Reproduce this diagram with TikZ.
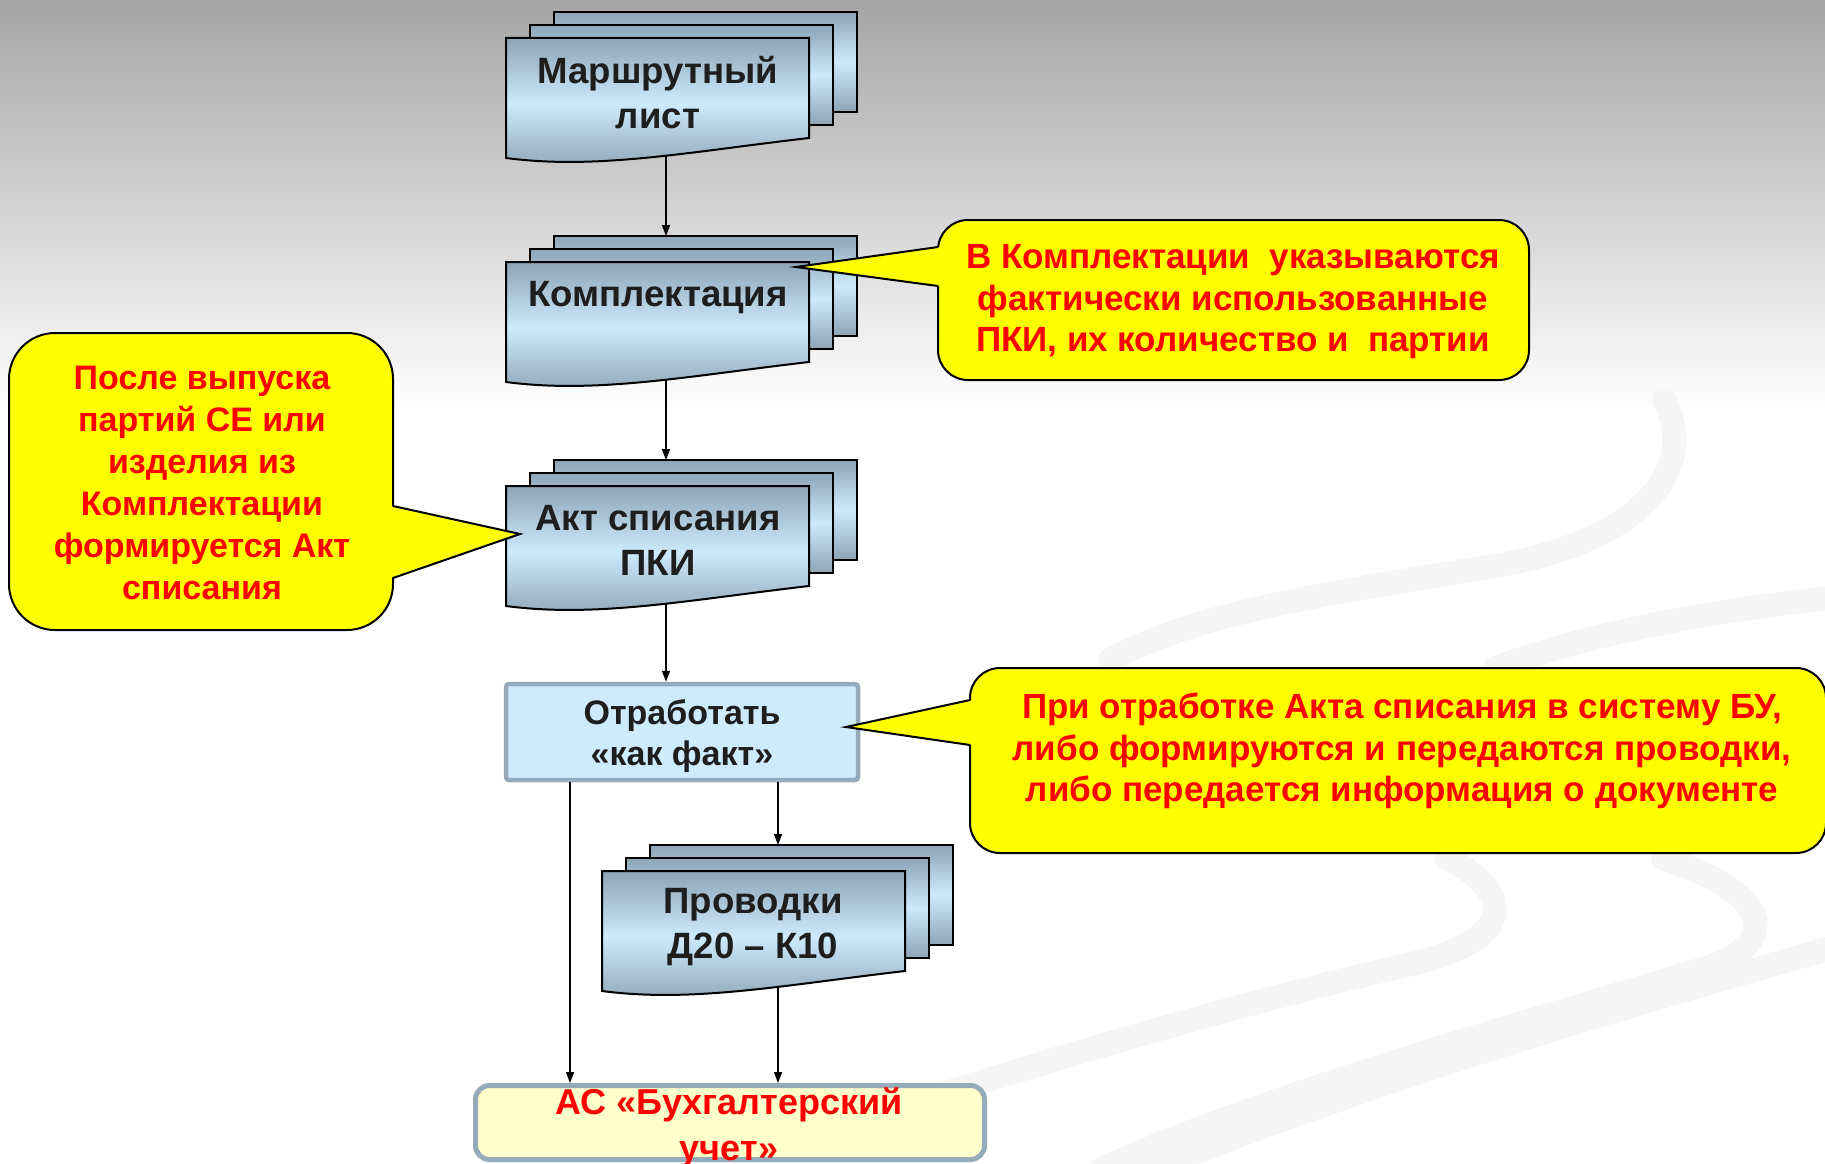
\documentclass[tikz,border=0pt]{standalone}
\usepackage{fontspec}
\setmainfont{Liberation Sans}
\usetikzlibrary{arrows.meta}
\definecolor{docdark}{HTML}{8DA5B5}
\definecolor{doclight}{HTML}{CCEAFC}
\definecolor{boxfill}{HTML}{CDEBFC}
\definecolor{boxline}{HTML}{95ABBA}
\definecolor{acfill}{HTML}{FFFFCC}
\definecolor{txtdark}{HTML}{1E1E1E}
\definecolor{swooshcol}{HTML}{F5F5F5}
\definecolor{notered}{HTML}{FF0000}
\definecolor{noteyellow}{HTML}{FFFF00}
\tikzset{
  docbox/.style={draw=black, line width=2pt, top color=docdark, bottom color=docdark, middle color=doclight},
  doctext/.style={font=\fontsize{36.6}{45}\selectfont\bfseries, text=txtdark, align=center, inner sep=0pt},
  conn/.style={line width=1.6pt, -{Triangle[length=11pt,width=8pt]}},
  callout/.style={draw=black, line width=2pt, fill=noteyellow},
  notetext/.style={font=\fontsize{35}{41.5}\selectfont\bfseries, text=notered, align=center, inner sep=0pt},
  swoosh/.style={draw=swooshcol, line width=24pt, line cap=round},
  otrbox/.style={draw=boxline, line width=4.5pt, fill=boxfill, rounded corners=3pt, minimum width=352pt, minimum height=96pt, inner sep=0pt},
  acbox/.style={draw=boxline, line width=5pt, fill=acfill, rounded corners=14pt, minimum width=509pt, minimum height=74pt, inner sep=0pt},
}
% document stack: #1 = left x, #2 = top y of the front sheet
\newcommand{\docstack}[2]{%
  \draw[docbox] (#1+48,#2-26) rectangle (#1+351,#2+74);
  \draw[docbox] (#1+24,#2-13) rectangle (#1+327,#2+87);
  \draw[docbox] (#1,#2) -- (#1+303,#2) -- (#1+303,#2+100)
     .. controls (#1+182,#2+114) and (#1+91,#2+132) .. (#1,#2+120) -- cycle;
}
\begin{document}
\begin{tikzpicture}[x=1pt,y=-1pt]
\clip (0,0) rectangle (1825,1164);
% background
\fill[white] (0,0) rectangle (1825,1164);
\fill[top color=black!35, bottom color=white] (0,0) rectangle (1825,410);
% faint swooshes
\draw[swoosh] (1664,400) .. controls (1700,470) and (1640,540) .. (1500,565)
   .. controls (1350,590) and (1200,610) .. (1110,660);
\draw[swoosh] (1495,668) .. controls (1600,630) and (1720,610) .. (1830,598);
\draw[swoosh] (1447,858) .. controls (1510,890) and (1520,935) .. (1420,962)
   .. controls (1250,1000) and (1050,1060) .. (940,1095);
\draw[swoosh] (1663,858) .. controls (1790,900) and (1770,950) .. (1700,970)
   .. controls (1500,1030) and (1250,1100) .. (1100,1170);
\draw[swoosh] (1830,948) .. controls (1650,1000) and (1400,1070) .. (1150,1170);
% document stacks
\docstack{506}{38}
\docstack{506}{262}
\docstack{506}{486}
\docstack{602}{871}
% text of the stacks
\node[doctext] (ml) at (658,93) {Маршрутный\\лист};
\node[doctext] (km) at (658,298) {Комплектация};
\node[doctext] (akt) at (658,540) {Акт списания\\ПКИ};
\node[doctext] (prov) at (753,927) {Проводки\\Д20 – К10};
% boxes
\node[otrbox] (otr) at (682,732) {};
\node[font=\fontsize{34}{41}\selectfont\bfseries, text=txtdark, align=center, inner sep=0pt] (otrtext) at (682,736) {Отработать\\«как факт»};
\node[acbox] (ac) at (730,1122.5) {};
\node[font=\fontsize{36}{46}\selectfont\bfseries, text=notered, align=center, inner sep=0pt] (actext) at (729,1128) {АС «Бухгалтерский\\учет»};
% connector end points
\coordinate (ml-b) at (666,155);
\coordinate (km-t) at (666,236);
\coordinate (km-b) at (666,379);
\coordinate (akt-t) at (666,460);
\coordinate (akt-b) at (666,603);
\coordinate (prov-t) at (778,845);
\coordinate (prov-b) at (778,987);
% connectors
\draw[conn] (ml-b) -- (km-t);
\draw[conn] (km-b) -- (akt-t);
\draw[conn] (akt-b) -- (otr.north -| akt-b);
\draw[conn] (otr.south -| prov-t) -- (prov-t);
\draw[conn] (otr.south -| 570,0) -- (ac.north -| 570,0);
\draw[conn] (prov-b) -- (ac.north -| prov-b);
% callouts
\draw[callout, rounded corners=46pt] (9,333) rectangle (393,630);
\fill[noteyellow] (390,506) -- (520,534) -- (390,578) -- cycle;
\draw[line width=2pt, line join=miter] (393,506) -- (520,534) -- (393,578);
\node[notetext, font=\fontsize{34}{42}\selectfont\bfseries] (n1) at (202,483)
  {После выпуска\\партий СЕ или\\изделия из\\Комплектации\\формируется Акт\\списания};

\draw[callout, rounded corners=30pt] (938,220) rectangle (1529,380);
\fill[noteyellow] (941,247) -- (796,267) -- (941,286) -- cycle;
\draw[line width=2pt, line join=miter] (938,247) -- (796,267) -- (938,286);
\node[notetext] (n2) at (1233,302)
  {В Комплектации~~указываются\\фактически использованные\\ПКИ, их количество и~~партии};

\draw[callout, rounded corners=30pt] (970,668) rectangle (1826,853);
\fill[noteyellow] (973,700) -- (846,727) -- (973,745) -- cycle;
\draw[line width=2pt, line join=miter] (970,700) -- (846,727) -- (970,745);
\node[notetext] (n3) at (1402,751)
  {При отработке Акта списания в систему БУ,\\либо формируются и передаются проводки,\\либо передается информация о документе};
\end{tikzpicture}
\end{document}
